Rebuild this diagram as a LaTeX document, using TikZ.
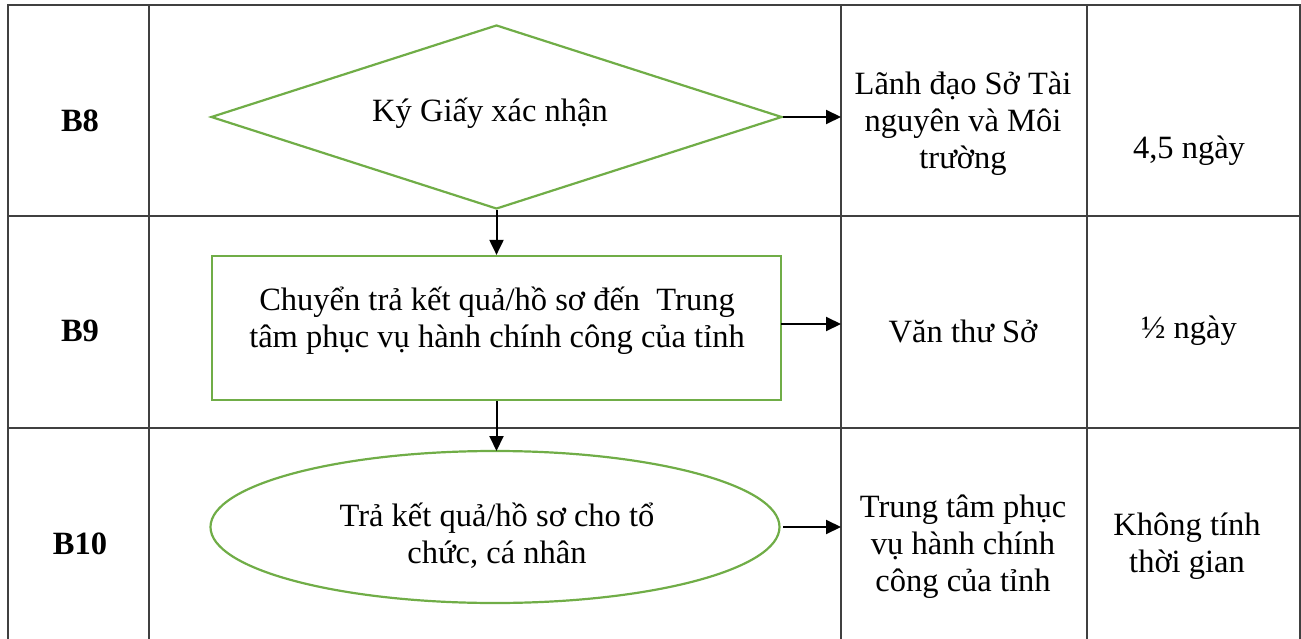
\documentclass[tikz,border=0pt]{standalone}
\usepackage{fontspec}
\setmainfont{Liberation Serif}
\usetikzlibrary{shapes.geometric,arrows.meta}
\definecolor{fgreen}{HTML}{70AD47}
\definecolor{gridc}{HTML}{404040}
\begin{document}
\begin{tikzpicture}[x=1pt,y=-1pt,
  gridline/.style={draw=gridc,line width=1.6pt},
  flowshape/.style={draw=fgreen,line width=2.2pt,inner sep=0pt},
  txt/.style={font=\fontsize{32.5}{37}\selectfont,align=center,inner sep=0pt},
  stepno/.style={font=\fontsize{32.5}{37}\selectfont\bfseries,inner sep=0pt},
  conn/.style={draw=black,line width=2pt,-{Triangle[length=15pt,width=14pt]}}]
\useasboundingbox (0,0) rectangle (1301,639);
% grid
\draw[gridline] (8,639) -- (8,5) -- (1300,5) -- (1300,639);
\draw[gridline] (149,5) -- (149,639);
\draw[gridline] (841,5) -- (841,639);
\draw[gridline] (1087,5) -- (1087,639);
\draw[gridline] (8,216) -- (1300,216);
\draw[gridline] (8,428) -- (1300,428);
% step numbers
\node[stepno] (s8) at (80,121) {B8};
\node[stepno] (s9) at (80,331) {B9};
\node[stepno] (s10) at (80,544) {B10};
% shapes
\node[flowshape,diamond,minimum width=571pt,minimum height=184pt] (d) at (496.5,117) {};
\node[txt] (dt) at (490,113) {Ký Giấy xác nhận};
\node[flowshape,rectangle,minimum width=569pt,minimum height=144pt] (r) at (496.5,328) {};
\node[txt] (rt) at (497,321) {Chuyển trả kết quả/hồ sơ đến\ \ Trung\\tâm phục vụ hành chính công của tỉnh};
\node[flowshape,ellipse,minimum width=569pt,minimum height=152pt] (e) at (495,527) {};
\node[txt] (et) at (497,536) {Trả kết quả/hồ sơ cho tổ\\chức, cá nhân};
% column 3
\node[txt] (c8) at (963,124) {Lãnh đạo Sở Tài\\nguyên và Môi\\trường};
\node[txt] (c9) at (963,331) {Văn thư Sở};
\node[txt] (c10) at (963,547) {Trung tâm phục\\vụ hành chính\\công của tỉnh};
% column 4
\node[txt] (t8) at (1189,151) {4,5 ngày};
\node[txt] (t9) at (1189,331) {½ ngày};
\node[txt] (t10) at (1187,546) {Không tính\\thời gian};
% connectors
\coordinate (a8) at (841,117);
\coordinate (a9) at (841,324);
\coordinate (a10) at (841,527);
\coordinate (rs) at (781,324);
\coordinate (es) at (783,527);
\coordinate (rb) at (496.5,400);
\coordinate (et0) at (496.5,451);
\draw[conn] (d.east) -- (a8);
\draw[conn] (rs) -- (a9);
\draw[conn] (es) -- (a10);
\draw[conn] (d.south) -- (r.north);
\draw[conn] (r.south) -- (et0);
\end{tikzpicture}
\end{document}
